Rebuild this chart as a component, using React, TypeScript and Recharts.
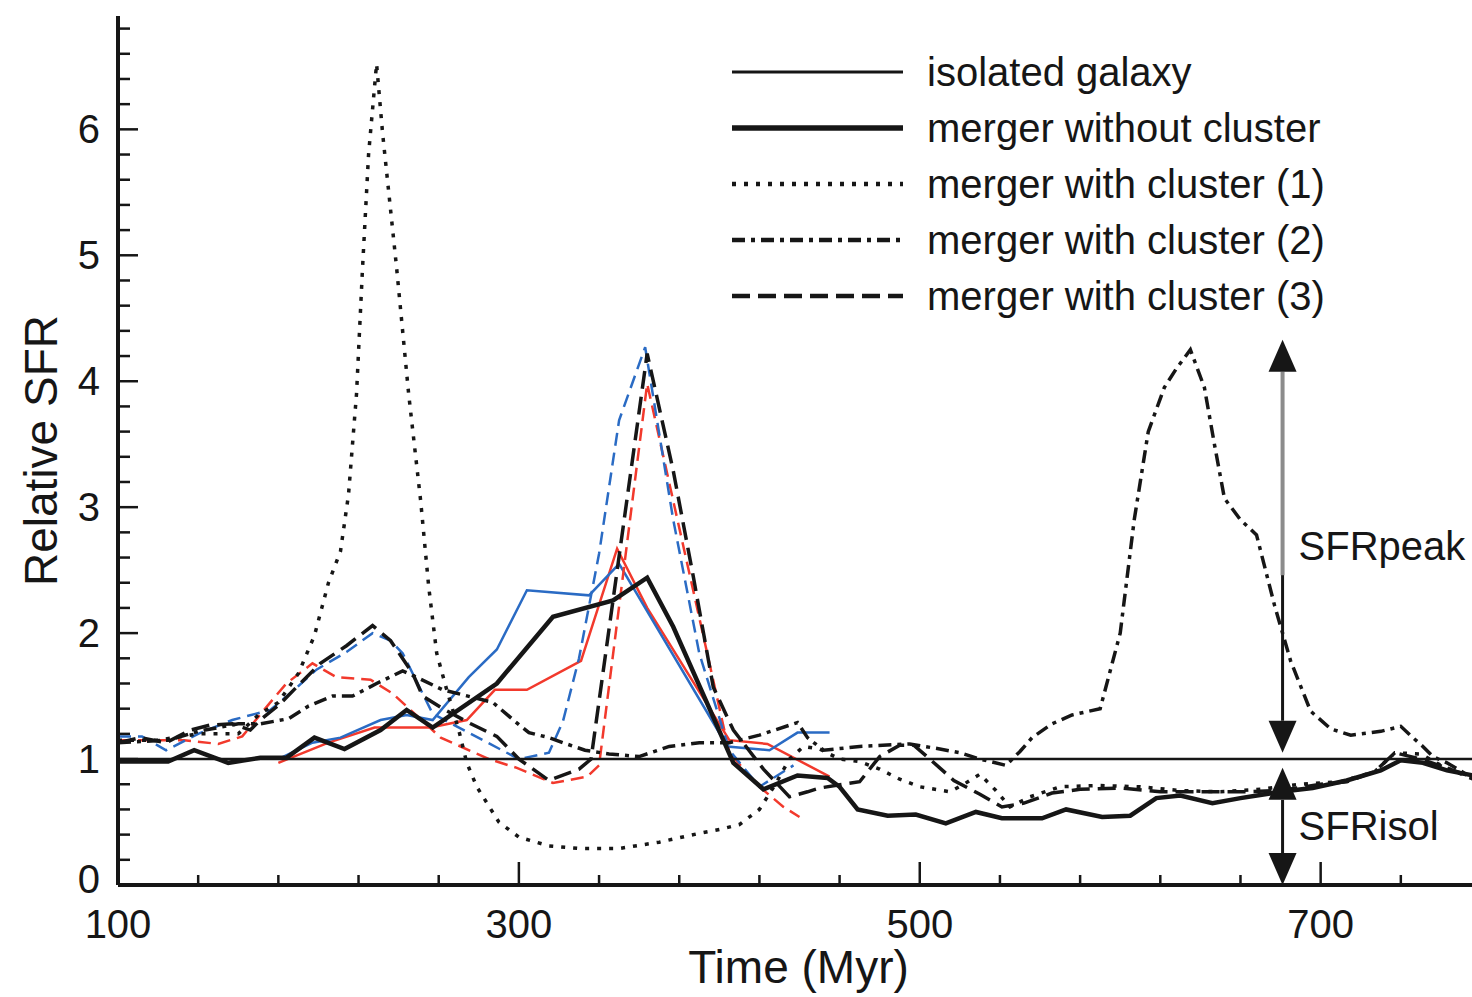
import { LineChart, Line, XAxis, YAxis, ReferenceLine, Legend } from "recharts";

// Time (Myr) / relative SFR
const isolT = [100, 779];
const isolSFR = [1, 1];

const mergerT = [100, 125, 138, 155, 171, 184, 198, 213, 231, 244, 257, 289, 317, 347, 364, 377, 394, 407, 422, 439, 454, 460, 469, 484, 498, 513, 528, 541, 561, 573, 591, 605, 618, 630, 646, 660, 680, 696, 713, 730, 740, 751, 763, 779];
const mergerSFR = [0.98, 0.98, 1.07, 0.97, 1.01, 1.01, 1.17, 1.08, 1.23, 1.39, 1.25, 1.6, 2.13, 2.26, 2.44, 2.05, 1.44, 0.97, 0.76, 0.87, 0.85, 0.78, 0.6, 0.55, 0.56, 0.49, 0.58, 0.53, 0.53, 0.6, 0.54, 0.55, 0.69, 0.71, 0.65, 0.69, 0.74, 0.77, 0.83, 0.91, 0.99, 0.97, 0.91, 0.86];

const c1T = [100, 120, 140, 160, 170, 180, 190, 198, 205, 211, 215, 219, 222, 225, 229, 232, 239, 245, 251, 255, 259, 264, 270, 274, 279, 290, 300, 315, 330, 350, 370, 390, 400, 410, 420, 428, 435, 442, 450, 460, 470, 480, 490, 500, 515, 522, 530, 538, 545, 555, 570, 590, 610, 630, 650, 670, 690, 710, 727, 737, 750, 760, 779];
const c1SFR = [1.15, 1.15, 1.2, 1.2, 1.35, 1.45, 1.68, 1.98, 2.4, 2.65, 3.1, 3.9, 4.9, 5.8, 6.52, 5.97, 4.9, 3.9, 3.05, 2.37, 1.84, 1.55, 1.23, 0.97, 0.78, 0.5, 0.38, 0.31, 0.29, 0.29, 0.34, 0.41, 0.44, 0.48, 0.6, 0.8, 1.0, 1.1, 1.08, 1.0, 0.98, 0.92, 0.84, 0.78, 0.74, 0.8, 0.88, 0.75, 0.62, 0.7, 0.78, 0.79, 0.78, 0.75, 0.74, 0.76, 0.8, 0.82, 0.9, 1.05, 1.04, 0.95, 0.82];

const c2T = [100, 125, 140, 160, 171, 185, 195, 207, 217, 229, 242, 249, 262, 287, 298, 305, 315, 322, 333, 345, 360, 375, 390, 405, 420, 439, 444, 452, 470, 495, 510, 520, 530, 543, 550, 556, 566, 576, 590, 600, 607, 614, 622, 628, 635, 642, 647, 652, 660, 668, 677, 685, 695, 705, 715, 730, 740, 746, 751, 756, 763, 779];
const c2SFR = [1.13, 1.15, 1.22, 1.28, 1.28, 1.32, 1.42, 1.5, 1.5, 1.6, 1.7, 1.65, 1.55, 1.45, 1.3, 1.21, 1.17, 1.13, 1.07, 1.04, 1.02, 1.1, 1.13, 1.13, 1.19, 1.29, 1.17, 1.07, 1.1, 1.12, 1.08, 1.05, 1.0, 0.95, 1.06, 1.17, 1.28, 1.35, 1.4, 2.0, 2.9, 3.6, 3.95, 4.1, 4.25, 3.95, 3.5, 3.07, 2.9, 2.78, 2.22, 1.78, 1.38, 1.24, 1.19, 1.22, 1.26, 1.17, 1.1, 1.02, 0.97, 0.82];

const c3T = [100, 111, 124, 136, 146, 157, 166, 171, 181, 189, 201, 214, 227, 236, 247, 252, 262, 276, 289, 300, 315, 330, 336, 364, 377, 387, 397, 407, 422, 435, 444, 450, 470, 480, 490, 497, 505, 517, 530, 541, 552, 566, 580, 600, 620, 640, 660, 680, 700, 713, 727, 737, 750, 779];
const c3SFR = [1.13, 1.17, 1.13, 1.23, 1.27, 1.28, 1.23, 1.31, 1.44, 1.57, 1.76, 1.9, 2.06, 1.94, 1.68, 1.5, 1.4, 1.28, 1.18, 1.0, 0.83, 0.92, 1.0, 4.22, 3.29, 2.45, 1.57, 1.23, 0.92, 0.7, 0.74, 0.77, 0.82, 1.02, 1.11, 1.11, 1.0, 0.83, 0.72, 0.62, 0.65, 0.73, 0.76, 0.77, 0.74, 0.74, 0.74, 0.75, 0.8, 0.82, 0.9, 1.05, 1.0, 0.84];

// coloured runs (no legend entry in the original)
const redSolidT = [180, 205, 228, 256, 274, 288, 304, 331, 349, 364, 405, 424, 455];
const redSolidSFR = [0.97, 1.13, 1.25, 1.25, 1.31, 1.55, 1.55, 1.78, 2.67, 2.2, 1.15, 1.12, 0.86];
const blueSolidT = [180, 197, 211, 231, 244, 257, 275, 289, 304, 335, 350, 404, 425, 439, 455];
const blueSolidSFR = [1.0, 1.13, 1.17, 1.31, 1.35, 1.31, 1.65, 1.87, 2.34, 2.3, 2.55, 1.1, 1.07, 1.21, 1.21];
const redDashT = [100, 115, 133, 150, 162, 176, 184, 197, 209, 226, 237, 261, 285, 299, 317, 334, 340, 364, 405, 420, 432, 440];
const redDashSFR = [1.15, 1.15, 1.15, 1.12, 1.18, 1.45, 1.6, 1.76, 1.65, 1.63, 1.52, 1.17, 1.0, 0.93, 0.81, 0.86, 0.95, 3.98, 1.05, 0.78, 0.62, 0.54];
const blueDashT = [100, 112, 124, 140, 157, 176, 188, 199, 214, 227, 236, 242, 257, 282, 300, 315, 322, 330, 340, 350, 363, 377, 390, 405, 420, 437];
const blueDashSFR = [1.18, 1.18, 1.07, 1.2, 1.31, 1.39, 1.55, 1.71, 1.85, 2.0, 1.94, 1.84, 1.36, 1.15, 1.0, 1.05, 1.3, 1.8, 2.63, 3.69, 4.27, 2.9, 1.84, 1.07, 0.78, 0.95];

// double arrows on the right
const arrowT = 681;
const peakArrow = [1.05, 4.33];
const isolArrow = [0, 0.93];

const xLabels = [100, 300, 500, 700];
const yLabels = [0, 1, 2, 3, 4, 5, 6];
const xTicks = Array.from({ length: 17 }, (_, i) => 100 + 40 * i);
const yTicks = Array.from({ length: 35 }, (_, i) => Number((i * 0.2).toFixed(1)));

const FONT = '"Liberation Sans", Arial, Helvetica, sans-serif';
const INK = "#161616";
const RED = "#f2392c";
const BLUE = "#2a6bc4";

const pts = (t: number[], v: number[]) => t.map((x, i) => ({ t: x, sfr: v[i] }));

const blackSeries = [
  { name: "isolated galaxy", t: isolT, v: isolSFR, width: 2.5, legendWidth: 3, dash: undefined },
  { name: "merger without cluster", t: mergerT, v: mergerSFR, width: 4.5, legendWidth: 5.5, dash: undefined },
  { name: "merger with cluster (1)", t: c1T, v: c1SFR, width: 3.5, legendWidth: 4.5, dash: "4 8" },
  { name: "merger with cluster (2)", t: c2T, v: c2SFR, width: 3.5, legendWidth: 4.5, dash: "13 6 4 6" },
  { name: "merger with cluster (3)", t: c3T, v: c3SFR, width: 3.5, legendWidth: 4.5, dash: "18 8" },
];

const colourSeries = [
  { key: "redSolid", t: redSolidT, v: redSolidSFR, color: RED, dash: undefined },
  { key: "blueSolid", t: blueSolidT, v: blueSolidSFR, color: BLUE, dash: undefined },
  { key: "redDash", t: redDashT, v: redDashSFR, color: RED, dash: "13 7" },
  { key: "blueDash", t: blueDashT, v: blueDashSFR, color: BLUE, dash: "13 7" },
];

const isMajorY = (v: number) => Math.abs(v - Math.round(v)) < 1e-6;

const BottomTick = ({ x, y, payload }: any) => {
  const major = xLabels.includes(payload.value);
  return (
    <g>
      <line x1={x} x2={x} y1={y} y2={y - (major ? 23 : 10)} stroke={INK} strokeWidth={2.5} />
      {major && (
        <text x={x} y={y + 53} textAnchor="middle" fontSize={40} fontFamily={FONT} fill={INK}>
          {payload.value}
        </text>
      )}
    </g>
  );
};

const TopTick = ({ x, y, payload }: any) => {
  const major = xLabels.includes(payload.value);
  return <line x1={x} x2={x} y1={y} y2={y + (major ? 22 : 11)} stroke={INK} strokeWidth={2.5} />;
};

const LeftTick = ({ x, y, payload }: any) => {
  const major = isMajorY(payload.value);
  const v = Math.round(payload.value);
  // the "0" sits right on top of the "100" below it, lift it a little
  const dy = v === 0 ? 8 : 14;
  return (
    <g>
      <line x1={x} x2={x + (major ? 20 : 12)} y1={y} y2={y} stroke={INK} strokeWidth={2.5} />
      {major && yLabels.includes(v) && (
        <text x={x - 18} y={y + dy} textAnchor="end" fontSize={40} fontFamily={FONT} fill={INK}>
          {v}
        </text>
      )}
    </g>
  );
};

const RightTick = ({ x, y, payload }: any) => {
  const major = isMajorY(payload.value);
  return <line x1={x} x2={x - (major ? 20 : 12)} y1={y} y2={y} stroke={INK} strokeWidth={2.5} />;
};

const makeArrow = (label: string, split?: number) => (props: any) => {
  const { x1, y1, y2 } = props;
  const top = Math.min(y1, y2);
  const bot = Math.max(y1, y2);
  const head = 32;
  const hw = 14;
  const mid = split != null ? top + (bot - top) * split : top + head;
  return (
    <g>
      {split != null && (
        <line x1={x1} x2={x1} y1={top + head} y2={mid} stroke="#8c8c8c" strokeWidth={4} />
      )}
      <line x1={x1} x2={x1} y1={mid} y2={bot - head} stroke={INK} strokeWidth={3} />
      <polygon points={`${x1},${top} ${x1 - hw},${top + head} ${x1 + hw},${top + head}`} fill={INK} />
      <polygon points={`${x1},${bot} ${x1 - hw},${bot - head} ${x1 + hw},${bot - head}`} fill={INK} />
      <text x={x1 + 16} y={(top + bot) / 2 + 14} fontSize={40} fontFamily={FONT} fill={INK}>
        {label}
      </text>
    </g>
  );
};

const LegendBox = () => (
  <div style={{ fontFamily: FONT, fontSize: 40, color: INK }}>
    {blackSeries.map((s) => (
      <div key={s.name} style={{ display: "flex", alignItems: "center", height: 56 }}>
        <svg width={195} height={56} style={{ flex: "none" }}>
          <line x1={0} x2={171} y1={28} y2={28} stroke={INK} strokeWidth={s.legendWidth} strokeDasharray={s.dash} />
        </svg>
        <span style={{ whiteSpace: "nowrap" }}>{s.name}</span>
      </div>
    ))}
  </div>
);

export default function App() {
  return (
    <div style={{ position: "absolute", left: 0, top: 0, width: 1472, height: 997, overflow: "hidden", background: "#fff" }}>
      <LineChart width={1480} height={997} margin={{ top: 16, right: 1, bottom: 0, left: 0 }}>
        <XAxis
          type="number"
          dataKey="t"
          domain={[100, 779]}
          allowDataOverflow
          ticks={xTicks}
          interval={0}
          tickLine={false}
          tickSize={0}
          tickMargin={0}
          tick={(p: any) => <BottomTick {...p} />}
          axisLine={{ stroke: INK, strokeWidth: 4 }}
          height={112}
          label={({ viewBox }: any) => (
            <text x={viewBox.x + viewBox.width / 2} y={viewBox.y + 98} textAnchor="middle" fontSize={46} fontFamily={FONT} fill={INK}>
              Time (Myr)
            </text>
          )}
        />
        <XAxis
          xAxisId="top"
          orientation="top"
          type="number"
          dataKey="t"
          domain={[100, 779]}
          allowDataOverflow
          ticks={xTicks}
          interval={0}
          tickLine={false}
          tickSize={0}
          tickMargin={0}
          tick={(p: any) => <TopTick {...p} />}
          axisLine={{ stroke: INK, strokeWidth: 3 }}
          height={0}
        />
        <YAxis
          type="number"
          domain={[0, 6.9]}
          allowDataOverflow
          ticks={yTicks}
          interval={0}
          tickLine={false}
          tickSize={0}
          tickMargin={0}
          tick={(p: any) => <LeftTick {...p} />}
          axisLine={{ stroke: INK, strokeWidth: 4 }}
          width={118}
          label={({ viewBox }: any) => {
            const cx = viewBox.x + 57;
            const cy = viewBox.y + viewBox.height / 2;
            return (
              <text x={cx} y={cy} transform={`rotate(-90 ${cx} ${cy})`} textAnchor="middle" fontSize={46} fontFamily={FONT} fill={INK}>
                Relative SFR
              </text>
            );
          }}
        />
        <YAxis
          yAxisId="right"
          orientation="right"
          type="number"
          domain={[0, 6.9]}
          allowDataOverflow
          ticks={yTicks}
          interval={0}
          tickLine={false}
          tickSize={0}
          tickMargin={0}
          tick={(p: any) => <RightTick {...p} />}
          axisLine={{ stroke: INK, strokeWidth: 3 }}
          width={0}
        />

        {colourSeries.map((s) => (
          <Line
            key={s.key}
            data={pts(s.t, s.v)}
            dataKey="sfr"
            type="linear"
            stroke={s.color}
            strokeWidth={2.5}
            strokeDasharray={s.dash}
            dot={false}
            activeDot={false}
            legendType="none"
            isAnimationActive={false}
          />
        ))}
        {blackSeries.map((s) => (
          <Line
            key={s.name}
            name={s.name}
            data={pts(s.t, s.v)}
            dataKey="sfr"
            type="linear"
            stroke={INK}
            strokeWidth={s.width}
            strokeDasharray={s.dash}
            dot={false}
            activeDot={false}
            isAnimationActive={false}
          />
        ))}

        <ReferenceLine
          segment={[{ x: arrowT, y: peakArrow[0] }, { x: arrowT, y: peakArrow[1] }]}
          ifOverflow="visible"
          shape={makeArrow("SFRpeak", 0.57)}
        />
        <ReferenceLine
          segment={[{ x: arrowT, y: isolArrow[0] }, { x: arrowT, y: isolArrow[1] }]}
          ifOverflow="visible"
          shape={makeArrow("SFRisol")}
        />

        <Legend
          layout="horizontal"
          verticalAlign="middle"
          align="center"
          content={() => <LegendBox />}
          wrapperStyle={{ left: 732, top: 44, width: 700, height: 290 }}
        />
      </LineChart>
    </div>
  );
}
